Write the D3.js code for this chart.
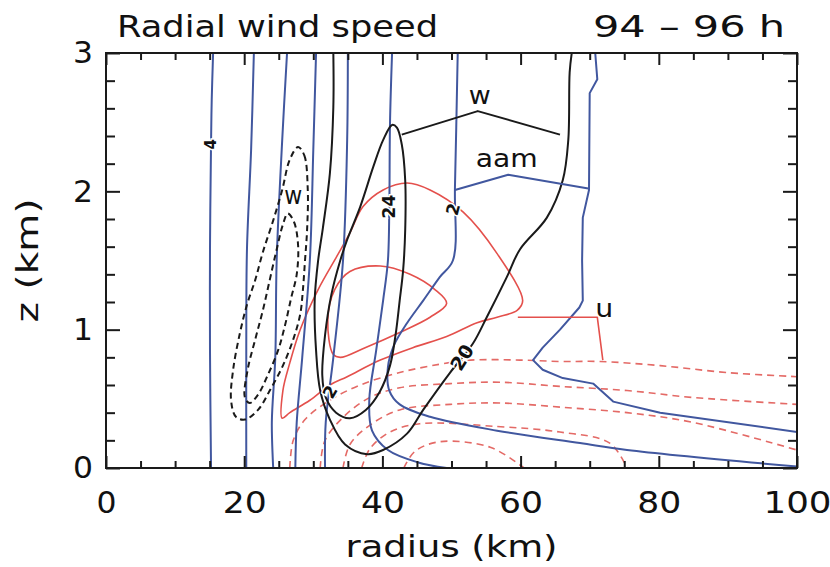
<!DOCTYPE html>
<html>
<head>
<meta charset="utf-8">
<script src="https://cdn.jsdelivr.net/npm/d3@7"></script>
<style>
  html, body { margin: 0; padding: 0; background: #fff; }
  svg { display: block; }
  text { font-family: "DejaVu Sans", sans-serif; fill: #111; }
</style>
</head>
<body>
<script>
// ---- axis ticks -------------------------------------------------------
const xTickLabels = [0, 20, 40, 60, 80, 100];
const yTickLabels = [0, 1, 2, 3];

// ---- absolute angular momentum contours (radius km, height km) ----------
const aam4  = [[15.5,3.0],[15.3,2.66],[15.2,2.34],[15.05,1.58],[15.05,0.85],[15.2,0]];
const aam8  = [[21.4,3.0],[21.0,2.3],[20.4,1.58],[20.3,0.85],[20.3,0]];
const aam12 = [[26.2,3],[25.5,2.37],[24.7,1.5],[24.5,0.8],[24.0,0.33],[24.2,0]];
const aam16 = [[30.4,3],[30.0,2.3],[29.5,1.5],[28.4,0.8],[27.6,0.33],[27.4,0]];
const aam20 = [[35.0,3],[34.9,2.37],[34.3,1.5],[32.9,0.8],[31.8,0.33],[31.7,0]];
const aam24 = [[41.4,3],[41.1,2.49],[41.0,1.89],[40.8,1.5],[40.1,1.21],[39.1,0.85],[38.1,0.49],
               [38.5,0.27],[40.8,0.13],[45.2,0.04],[49.3,0]];
const aam28 = [[50.9,3],[50.5,2.03],[50.2,1.5],[48.3,1.38],[45.9,1.21],[43.6,1.05],[41.7,0.89],
               [40.8,0.73],[41.0,0.56],[42.5,0.46],[46.9,0.37],[56.6,0.27],[68.6,0.18],[75.4,0.13],[100,0.01]];
const aam32 = [[70.8,3],[71.1,2.81],[70.0,2.71],[69.9,2.01],[69.0,1.81],[68.9,1.5],[69.0,1.21],
               [68.5,1.16],[65.7,1.0],[63.2,0.87],[61.8,0.78],[63.2,0.71],[66.1,0.65],[70.5,0.61],
               [73.4,0.48],[80.2,0.40],[100,0.26]];

// ---- vertical velocity contours ------------------------------------------
const wUp1 = [[32.9,3],[32.9,2.61],[32.4,2.13],[31.4,1.74],[30.7,1.5],[30.2,1.21],[30.4,0.85],
              [31.0,0.56],[32.4,0.35],[34.6,0.17],[37.8,0.10],[40.1,0.13],[43.6,0.25],[45.9,0.42],
              [49.8,0.69],[53.1,0.9],[55.1,1.09],[58.0,1.38],[59.9,1.58],[63.8,1.81],[66.1,2.08],
              [66.9,2.37],[67.1,2.86],[67.4,3]];
const wUp2 = [[41.4,2.48],[42.1,2.46],[42.8,2.34],[43.3,2.08],[43.3,1.72],[43.0,1.43],[42.5,1.21],
              [41.9,0.96],[41.1,0.74],[39.6,0.55],[37.6,0.42],[35.3,0.36],[33.3,0.40],[31.8,0.51],
              [31.3,0.67],[31.7,0.96],[32.6,1.25],[33.9,1.5],[34.9,1.65],[36.8,1.89],[38.7,2.18],[40.1,2.37]];
const wDown1 = [[27.8,2.32],[28.7,2.26],[29.2,2.01],[29.1,1.72],[28.8,1.5],[28.5,1.29],[28.1,1.11],
                [27.1,0.93],[25.6,0.74],[23.7,0.56],[22.0,0.42],[20.1,0.35],[18.8,0.37],[18.1,0.49],
                [18.4,0.71],[19.4,0.98],[20.4,1.18],[21.6,1.36],[22.7,1.56],[24.2,1.79],[25.5,2.01],[26.6,2.23]];
const wDown2 = [[26.3,1.84],[27.2,1.78],[27.8,1.61],[27.6,1.40],[26.8,1.23],[25.9,1.03],[24.9,0.85],
                [23.4,0.67],[22.0,0.53],[20.8,0.47],[20.1,0.51],[20.5,0.71],[21.6,0.93],[22.7,1.14],
                [23.7,1.36],[24.7,1.58],[25.6,1.76]];

// ---- radial wind contours: outflow (solid) and inflow (dashed) -----------
const uOut1 = [[25.5,0.36],[25.6,0.56],[26.6,0.76],[28.1,1.0],[30.7,1.29],[33.4,1.53],[35.3,1.70],
               [37.2,1.89],[40.1,2.01],[43.6,2.06],[46.9,2.01],[51.7,1.85],[56.6,1.55],[60.3,1.21],
               [59.5,1.14],[56.6,1.09],[53.7,1.05],[49.3,0.95],[44.4,0.87],[39.7,0.78],[34.9,0.66],
               [32.4,0.60],[29.5,0.49],[26.6,0.40]];
const uOut2 = [[32.9,0.82],[32.1,1.07],[33.1,1.29],[35.3,1.42],[39.7,1.46],[44.0,1.40],[47.6,1.29],
               [49.3,1.19],[46.9,1.09],[42.5,0.98],[37.5,0.87],[33.9,0.80]];
const uIn1 = [[26.6,0],[27.1,0.2],[28.8,0.35],[32.4,0.49],[36.8,0.60],[42.5,0.69],[48.3,0.75],
              [52.7,0.78],[59.9,0.78],[65.7,0.77],[71.5,0.77],[80.2,0.74],[89.9,0.69],[100,0.66]];
const uIn2 = [[31.0,0],[31.7,0.2],[34.6,0.38],[38.2,0.51],[42.5,0.58],[49.8,0.61],[57.0,0.62],
              [65.7,0.59],[75.4,0.56],[84.9,0.51],[100,0.46]];
const uIn3 = [[34.3,0],[35.3,0.17],[38.2,0.31],[42.5,0.42],[49.8,0.46],[57.0,0.47],[65.7,0.44],
              [75.4,0.40],[84.9,0.33],[100,0.13]];
const uIn4 = [[37.0,0],[38.2,0.14],[41.1,0.26],[45.4,0.32],[56.6,0.30],[65.7,0.26],[72.9,0.18],[75.4,0]];
const uIn5 = [[43.1,0],[44.7,0.12],[48.3,0.19],[55.6,0.15],[60.5,0]];

// ---- key pointers and their names --------------------------------------
const wKey   = [[42.8,2.41],[53.8,2.58],[65.7,2.41]];
const aamKey = [[50.5,2.01],[58.2,2.12],[69.8,2.02]];
const uKey   = [[59.6,1.09],[71.1,1.09],[71.9,0.78]];
const keyNames = [
  {text: "w",   at: [54.1, 2.70], len: 22},
  {text: "aam", at: [58.0, 2.24], len: 62},
  {text: "u",   at: [72.1, 1.16], len: 18},
  {text: "w",   at: [27.1, 1.97], len: 18}
];
// contour values written along the lines
const lineLabels = [
  {text: "4",  at: [15.2, 2.34], angle: -90, size: 15},
  {text: "24", at: [41.0, 1.89], angle: -90, size: 17},
  {text: "2",  at: [50.2, 1.87], angle: -75, size: 17},
  {text: "2",  at: [32.4, 0.55], angle: -60, size: 17},
  {text: "20", at: [51.5, 0.80], angle: -58, size: 19}
];

// ---- styles ----------------------------------------------------------
const BLUE = "#41579f", BLACK = "#1a1a1a", RED = "#e4504c", RED_DASH = "#e46a66";

const W = 830, H = 567;
const margin = {left: 106, right: 33, top: 53, bottom: 99};
const x = d3.scaleLinear().domain([0, 100]).range([margin.left, W - margin.right]);
const y = d3.scaleLinear().domain([0, 3]).range([H - margin.bottom, margin.top]);

const svg = d3.select("body").append("svg").attr("width", W).attr("height", H);

svg.append("defs").append("clipPath").attr("id", "plot")
  .append("rect").attr("x", x(0)).attr("y", y(3))
  .attr("width", x(100) - x(0)).attr("height", y(0) - y(3));

const plot = svg.append("g").attr("clip-path", "url(#plot)");

const open = d3.line().x(d => x(d[0])).y(d => y(d[1])).curve(d3.curveCatmullRom.alpha(0.5));
const closed = d3.line().x(d => x(d[0])).y(d => y(d[1])).curve(d3.curveCatmullRomClosed.alpha(0.5));
const straight = d3.line().x(d => x(d[0])).y(d => y(d[1]));

const series = [
  {d: uIn1, gen: open, color: RED_DASH, dash: "7,5", w: 1.6},
  {d: uIn2, gen: open, color: RED_DASH, dash: "7,5", w: 1.6},
  {d: uIn3, gen: open, color: RED_DASH, dash: "7,5", w: 1.6},
  {d: uIn4, gen: open, color: RED_DASH, dash: "7,5", w: 1.6},
  {d: uIn5, gen: open, color: RED_DASH, dash: "7,5", w: 1.6},
  {d: uOut1, gen: closed, color: RED, w: 1.6},
  {d: uOut2, gen: closed, color: RED, w: 1.6},
  {d: aam4, gen: open, color: BLUE, w: 2},
  {d: aam8, gen: open, color: BLUE, w: 2},
  {d: aam12, gen: open, color: BLUE, w: 2},
  {d: aam16, gen: open, color: BLUE, w: 2},
  {d: aam20, gen: open, color: BLUE, w: 2},
  {d: aam24, gen: open, color: BLUE, w: 2},
  {d: aam28, gen: open, color: BLUE, w: 2},
  {d: aam32, gen: straight, color: BLUE, w: 2},
  {d: wDown1, gen: closed, color: BLACK, dash: "6,4", w: 2},
  {d: wDown2, gen: closed, color: BLACK, dash: "6,4", w: 2},
  {d: wUp1, gen: open, color: BLACK, w: 2},
  {d: wUp2, gen: closed, color: BLACK, w: 2},
  {d: wKey, gen: straight, color: BLACK, w: 2},
  {d: aamKey, gen: straight, color: BLUE, w: 2},
  {d: uKey, gen: straight, color: RED, w: 1.6}
];

plot.selectAll("path.contour").data(series).join("path")
  .attr("class", "contour")
  .attr("d", s => s.gen(s.d))
  .attr("fill", "none")
  .attr("stroke", s => s.color)
  .attr("stroke-width", s => s.w)
  .attr("stroke-dasharray", s => s.dash || null)
  .attr("stroke-linejoin", "round");

// contour value labels, knocked out of the line beneath
plot.selectAll("text.lbl").data(lineLabels).join("text")
  .attr("class", "lbl")
  .attr("transform", d => `translate(${x(d.at[0])},${y(d.at[1])}) rotate(${d.angle})`)
  .attr("text-anchor", "middle").attr("dy", "0.36em")
  .attr("font-size", d => d.size).attr("font-weight", "bold")
  .attr("stroke", "#fff").attr("stroke-width", 3).attr("paint-order", "stroke")
  .text(d => d.text);

plot.selectAll("text.key").data(keyNames).join("text")
  .attr("class", "key")
  .attr("x", d => x(d.at[0])).attr("y", d => y(d.at[1]))
  .attr("text-anchor", "middle").attr("dy", "0.36em")
  .attr("font-size", 25)
  .attr("textLength", d => d.len).attr("lengthAdjust", "spacingAndGlyphs")
  .text(d => d.text);

// ---- axes: ticks point inward on all four sides --------------------------
const xMinor = d3.range(0, 101, 5), yMinor = d3.range(0, 3.001, 0.2).map(v => +v.toFixed(1));
const isMajorX = v => xTickLabels.includes(v), isMajorY = v => yTickLabels.includes(v);
const labelLen = s => s.length * 24 - 4;

function styleAxis(g) {
  g.select(".domain").remove();
  g.selectAll(".tick line").attr("stroke", BLACK).attr("stroke-width", 2);
}

const gx = svg.append("g").attr("transform", `translate(0,${y(0)})`)
  .call(d3.axisBottom(x).tickValues(xMinor).tickSize(-7).tickPadding(23)
    .tickFormat(v => isMajorX(v) ? String(v) : ""));
gx.call(styleAxis);
gx.selectAll(".tick").filter(v => isMajorX(v)).select("line").attr("y2", -12);
gx.selectAll(".tick text").attr("font-size", 31).attr("fill", "#111")
  .filter(v => isMajorX(v)).attr("textLength", v => labelLen(String(v))).attr("lengthAdjust", "spacingAndGlyphs");

const gxt = svg.append("g").attr("transform", `translate(0,${y(3)})`)
  .call(d3.axisTop(x).tickValues(xMinor).tickSize(-7).tickFormat(""));
gxt.call(styleAxis);
gxt.selectAll(".tick").filter(v => isMajorX(v)).select("line").attr("y2", 12);

const gy = svg.append("g").attr("transform", `translate(${x(0)},0)`)
  .call(d3.axisLeft(y).tickValues(yMinor).tickSize(-9).tickPadding(13)
    .tickFormat(v => isMajorY(v) ? String(v) : ""));
gy.call(styleAxis);
gy.selectAll(".tick").filter(v => isMajorY(v)).select("line").attr("x2", 14);
gy.selectAll(".tick text").attr("font-size", 31).attr("fill", "#111")
  .filter(v => isMajorY(v)).attr("textLength", 20).attr("lengthAdjust", "spacingAndGlyphs");

const gyr = svg.append("g").attr("transform", `translate(${x(100)},0)`)
  .call(d3.axisRight(y).tickValues(yMinor).tickSize(-9).tickFormat(""));
gyr.call(styleAxis);
gyr.selectAll(".tick").filter(v => isMajorY(v)).select("line").attr("x2", -14);

svg.append("rect")
  .attr("x", x(0)).attr("y", y(3))
  .attr("width", x(100) - x(0)).attr("height", y(0) - y(3))
  .attr("fill", "none").attr("stroke", BLACK).attr("stroke-width", 2);

// ---- titles ----------------------------------------------------------
svg.append("text").attr("x", 117).attr("y", 37)
  .attr("font-size", 30).attr("textLength", 321).attr("lengthAdjust", "spacingAndGlyphs")
  .text("Radial wind speed");
svg.append("text").attr("x", 785).attr("y", 37).attr("text-anchor", "end")
  .attr("font-size", 30).attr("textLength", 192).attr("lengthAdjust", "spacingAndGlyphs")
  .text("94 – 96 h");
svg.append("text").attr("x", (x(0) + x(100)) / 2).attr("y", 557).attr("text-anchor", "middle")
  .attr("font-size", 31).attr("textLength", 212).attr("lengthAdjust", "spacingAndGlyphs")
  .text("radius (km)");
svg.append("text")
  .attr("transform", `translate(38,${(y(0) + y(3)) / 2}) rotate(-90)`)
  .attr("text-anchor", "middle")
  .attr("font-size", 31).attr("textLength", 124).attr("lengthAdjust", "spacingAndGlyphs")
  .text("z (km)");
</script>
</body>
</html>
